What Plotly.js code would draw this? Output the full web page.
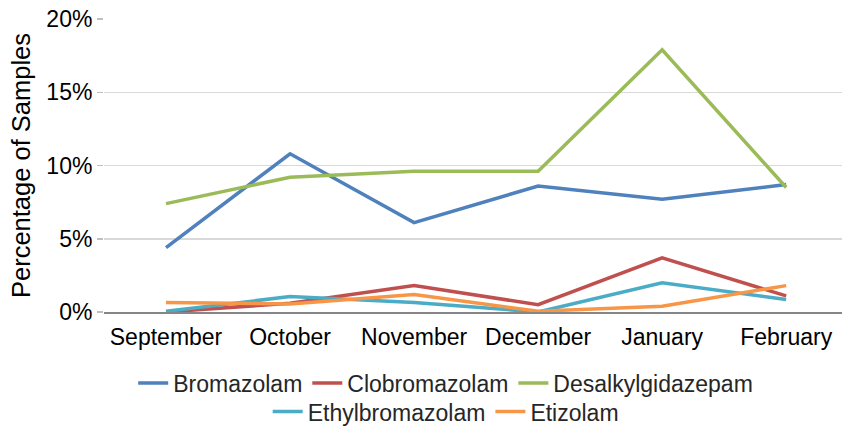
<!DOCTYPE html>
<html>
<head>
<meta charset="utf-8">
<script src="https://cdn.plot.ly/plotly-3.0.1.min.js"></script>
<style>html,body{margin:0;padding:0;background:#fff;}#chart{width:842px;height:427px;}</style>
</head>
<body>
<div id="chart"></div>
<script>
const months = ["September", "October", "November", "December", "January", "February"];
const bromazolam = [4.4, 10.8, 6.1, 8.6, 7.7, 8.7];
const clobromazolam = [0.0, 0.6, 1.8, 0.5, 3.7, 1.1];
const desalkylgidazepam = [7.4, 9.2, 9.6, 9.6, 17.9, 8.5];
const ethylbromazolam = [0.05, 1.05, 0.65, 0.0, 2.0, 0.85];
const etizolam = [0.65, 0.55, 1.2, 0.05, 0.4, 1.8];

const seriesNames = ["Bromazolam", "Clobromazolam", "Desalkylgidazepam", "Ethylbromazolam", "Etizolam"];
const seriesValues = [bromazolam, clobromazolam, desalkylgidazepam, ethylbromazolam, etizolam];
const colors = ["#4f81bd", "#c0504d", "#9bbb59", "#4bacc6", "#f79646"];
const legendOf = ["legend", "legend", "legend", "legend2", "legend2"];
const yTicks = [0, 5, 10, 15, 20];

const traces = seriesNames.map((n, i) => ({
  type: "scatter", mode: "lines", name: n,
  x: months, y: seriesValues[i],
  line: {color: colors[i], width: 3.5},
  legend: legendOf[i]
}));

const fam = "Liberation Sans, Arial, sans-serif";
const font = {family: fam, size: 23, color: "#000"};
const legFont = {family: fam, size: 23, color: "#262626"};
const layout = {
  width: 842, height: 427,
  margin: {l: 104, r: 0, t: 18.5, b: 114.5, autoexpand: false},
  paper_bgcolor: "#fff", plot_bgcolor: "#fff",
  font: font,
  showlegend: true,
  xaxis: {
    type: "category", range: [-0.5, 5.45], automargin: false,
    showgrid: false, zeroline: false,
    showline: true, linecolor: "#868686", linewidth: 2,
    ticks: "", ticklabelstandoff: 3,
    tickfont: font, fixedrange: true
  },
  yaxis: {
    range: [0, 20], tickvals: yTicks, ticktext: yTicks.map(v => v + "%"), automargin: false,
    showgrid: true, gridcolor: "#d9d9d9", gridwidth: 1.5,
    zeroline: false, showline: false,
    ticks: "outside", ticklen: 6, tickcolor: "#bfbfbf", tickwidth: 1.5,
    tickfont: font,
    title: {text: "Percentage of Samples", font: {family: fam, size: 25.5, color: "#000"}, standoff: 8},
    fixedrange: true
  },
  legend: {
    orientation: "h", x: 0.463, xanchor: "center", yref: "container", y: 0.103, yanchor: "middle",
    font: legFont, itemwidth: 30, bgcolor: "rgba(0,0,0,0)"
  },
  legend2: {
    orientation: "h", x: 0.463, xanchor: "center", yref: "container", y: 0.036, yanchor: "middle",
    font: legFont, itemwidth: 30, bgcolor: "rgba(0,0,0,0)"
  }
};

Plotly.newPlot("chart", traces, layout, {displayModeBar: false, staticPlot: true});
</script>
</body>
</html>
